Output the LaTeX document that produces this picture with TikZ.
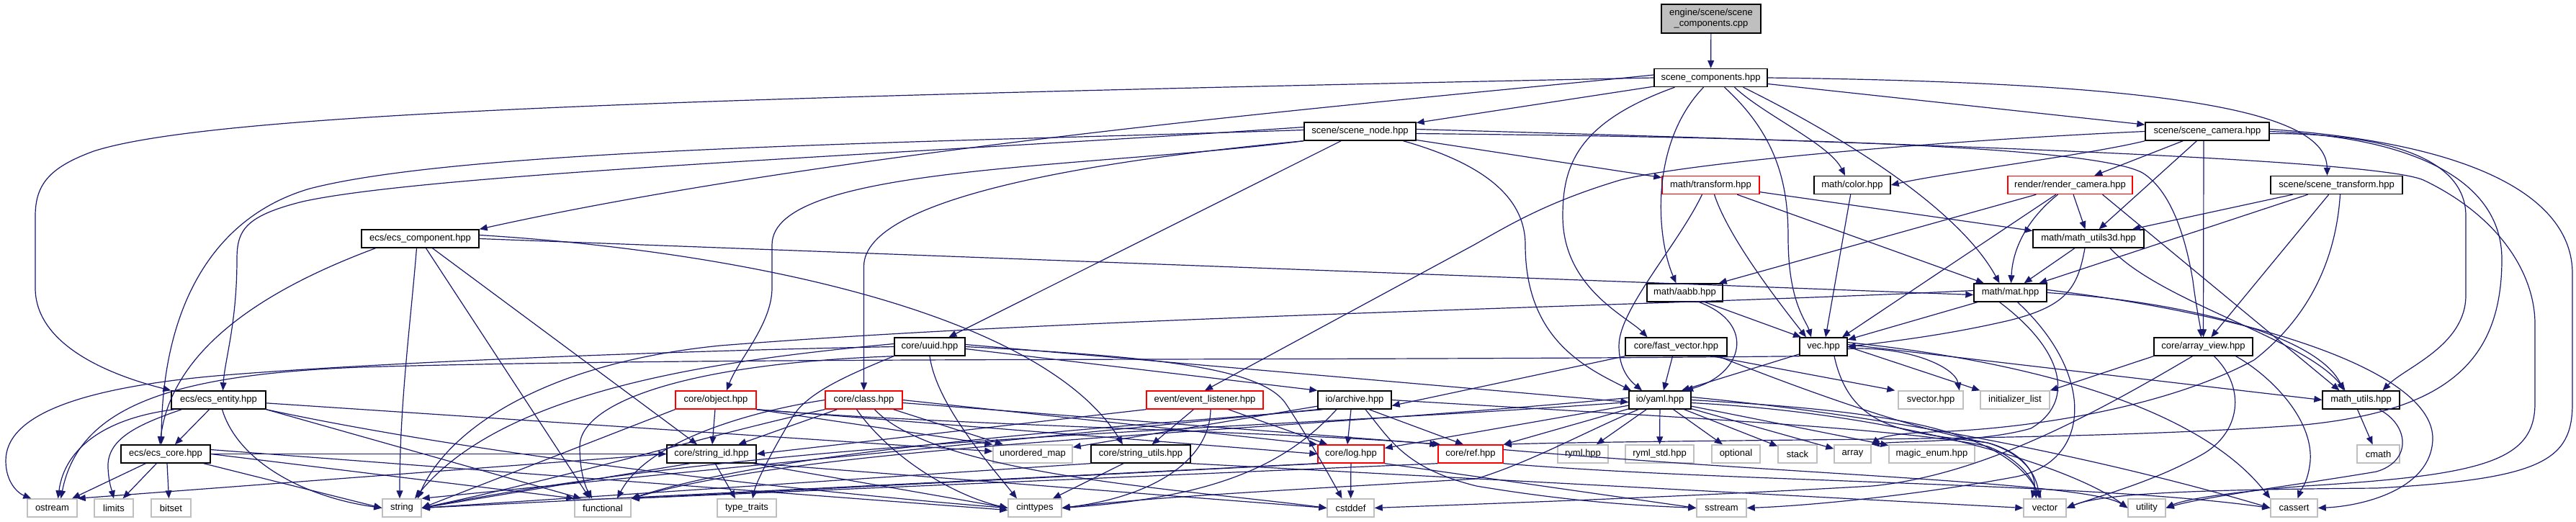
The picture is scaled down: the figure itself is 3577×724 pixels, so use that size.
\documentclass[tikz,border=0pt]{standalone}
\usepackage{fontspec}
\setmainfont{Liberation Sans}
\usetikzlibrary{arrows.meta}
\definecolor{navy}{HTML}{191970}
\definecolor{leafgray}{HTML}{BFBFBF}
\begin{document}
\begin{tikzpicture}[x=1pt,y=-1pt,
  every node/.style={font=\fontsize{13}{15}\selectfont, inner sep=0pt, minimum height=25pt, fill=white, line width=1.4pt},
  hdr/.style={draw=black},
  sys/.style={draw=leafgray},
  trunc/.style={draw=red},
  conn/.style={draw=navy, line width=1.2pt, -{Triangle[length=11pt,width=9pt]}}
]
\useasboundingbox (0,0) rectangle (3577,724);
% rank 0-1
\node[hdr, fill=leafgray, minimum width=138pt, minimum height=40pt, align=center] (cpp) at (2376,26) {engine/scene/scene\\\_components.cpp};
\node[hdr, minimum width=157pt] (sc) at (2375.5,108) {scene\_components.hpp};
% rank 2
\node[hdr, minimum width=155pt] (snode) at (1888.5,182.5) {scene/scene\_node.hpp};
\node[hdr, minimum width=172pt] (scam) at (3065,182.5) {scene/scene\_camera.hpp};
% rank 3
\node[trunc, minimum width=135pt] (transform) at (2375.5,257) {math/transform.hpp};
\node[hdr, minimum width=106pt] (color) at (2572,257) {math/color.hpp};
\node[trunc, minimum width=173pt] (rcam) at (2874.5,257) {render/render\_camera.hpp};
\node[hdr, minimum width=183pt] (strans) at (3244.5,257) {scene/scene\_transform.hpp};
% rank 4
\node[hdr, minimum width=163pt] (ecomp) at (583.5,331.5) {ecs/ecs\_component.hpp};
\node[hdr, minimum width=154pt] (mu3d) at (2900,331.5) {math/math\_utils3d.hpp};
% rank 5
\node[hdr, minimum width=105pt] (aabb) at (2339.5,406.5) {math/aabb.hpp};
\node[hdr, minimum width=101pt] (mat) at (2791.5,406.5) {math/mat.hpp};
% rank 6
\node[hdr, minimum width=98pt] (uuid) at (1291,481.5) {core/uuid.hpp};
\node[hdr, minimum width=141pt] (fvec) at (2327.5,481.5) {core/fast\_vector.hpp};
\node[hdr, minimum width=66pt] (vec) at (2532,481.5) {vec.hpp};
\node[hdr, minimum width=137pt] (aview) at (3059.5,481.5) {core/array\_view.hpp};
% rank 7
\node[hdr, minimum width=131pt] (eent) at (303.5,555.5) {ecs/ecs\_entity.hpp};
\node[trunc, minimum width=112pt] (object) at (994,555.5) {core/object.hpp};
\node[trunc, minimum width=107pt] (class) at (1199.5,555.5) {core/class.hpp};
\node[trunc, minimum width=162pt] (evl) at (1673,555.5) {event/event\_listener.hpp};
\node[hdr, minimum width=102pt] (archive) at (1881,555.5) {io/archive.hpp};
\node[hdr, minimum width=86pt] (yaml) at (2305,555.5) {io/yaml.hpp};
\node[sys, minimum width=90pt] (svector) at (2681,555.5) {svector.hpp};
\node[sys, minimum width=96pt] (initlist) at (2798,555.5) {initializer\_list};
\node[hdr, minimum width=107pt] (mutils) at (3278.5,555.5) {math\_utils.hpp};
% rank 8
\node[hdr, minimum width=124pt] (ecore) at (230,630.5) {ecs/ecs\_core.hpp};
\node[hdr, minimum width=124pt] (strid) at (988,630.5) {core/string\_id.hpp};
\node[sys, minimum width=110pt] (umap) at (1434,630.5) {unordered\_map};
\node[hdr, minimum width=138pt] (strutil) at (1584,630.5) {core/string\_utils.hpp};
\node[trunc, minimum width=92pt] (log) at (1876,630.5) {core/log.hpp};
\node[trunc, minimum width=90pt] (ref) at (2042,630.5) {core/ref.hpp};
\node[sys, minimum width=70pt] (ryml) at (2198,630.5) {ryml.hpp};
\node[sys, minimum width=95pt] (rymlstd) at (2304.5,630.5) {ryml\_std.hpp};
\node[sys, minimum width=67pt] (optional) at (2410.5,630.5) {optional};
\node[sys, minimum width=54pt] (stack) at (2496,630.5) {stack};
\node[sys, minimum width=51pt] (array) at (2572.5,630.5) {array};
\node[sys, minimum width=119pt] (magic) at (2682.5,630.5) {magic\_enum.hpp};
\node[sys, minimum width=59pt] (cmath) at (3302.5,630.5) {cmath};
% rank 9
\node[sys, minimum width=69pt] (ostream) at (72.5,705.5) {ostream};
\node[sys, minimum width=54pt] (limits) at (158,705.5) {limits};
\node[sys, minimum width=55pt] (bitset) at (237.5,705.5) {bitset};
\node[sys, minimum width=54pt] (string) at (558,705.5) {string};
\node[sys, minimum width=78pt] (functional) at (837,705.5) {functional};
\node[sys, minimum width=82pt] (typetraits) at (1037,705.5) {type\_traits};
\node[sys, minimum width=74pt] (cinttypes) at (1437,705.5) {cinttypes};
\node[sys, minimum width=65pt] (cstddef) at (1875.5,705.5) {cstddef};
\node[sys, minimum width=69pt] (sstream) at (2390.5,705.5) {sstream};
\node[sys, minimum width=59pt] (vector) at (2839.5,705.5) {vector};
\node[sys, minimum width=52pt] (utility) at (2981,705.5) {utility};
\node[sys, minimum width=65pt] (cassert) at (3185.5,705.5) {cassert};

% ---- edges ----
\draw[conn] (cpp) -- (sc);
% scene_components.hpp
\draw[conn] (sc.west) .. controls (1000,135) and (300,155) .. (130,210) .. controls (70,232) and (49,255) .. (49,300) -- (49,400) .. controls (49,470) and (130,515) .. (eent.north west);
\draw[conn] ([yshift=4]sc.west) .. controls (2000,135) and (1200,200) .. (ecomp.north east);
\draw[conn] (sc) -- (snode);
\draw[conn] (sc) -- (scam);
\draw[conn] (sc.east) .. controls (3050,115) and (3230,160) .. ([xshift=-13]strans.north);
\draw[conn] ([xshift=33]sc.south) .. controls (2450,160) and (2540,200) .. ([xshift=-10]color.north);
\draw[conn] ([xshift=-10]sc.south) .. controls (2290,200) and (2300,330) .. ([xshift=-12]aabb.north);
\draw[conn] ([xshift=-50]sc.south) .. controls (2190,170) and (2170,230) .. (2170,300) .. controls (2170,400) and (2260,440) .. ([xshift=-40]fvec.north);
\draw[conn] ([xshift=19]sc.south) .. controls (2470,190) and (2483,260) .. (2483,330) .. controls (2483,420) and (2508,445) .. ([xshift=-17]vec.north);
\draw[conn] ([xshift=45]sc.south) .. controls (2560,190) and (2720,290) .. ([xshift=-15]mat.north);
% scene_node.hpp
\draw[conn] ([yshift=2]snode.west) .. controls (1300,198) and (650,205) .. (430,262) .. controls (300,300) and (225,420) .. ([xshift=-6]ecore.north);
\draw[conn] ([yshift=6]snode.west) .. controls (1300,212) and (600,240) .. (420,280) .. controls (340,300) and (329,320) .. (329,360) .. controls (329,450) and (312,500) .. ([xshift=6]eent.north);
\draw[conn] (snode.south west) .. controls (1500,235) and (1072,230) .. (1072,340) -- (1072,400) .. controls (1072,450) and (1025,500) .. ([xshift=15]object.north);
\draw[conn] (snode.south west) .. controls (1550,220) and (1199.5,270) .. (1199.5,370) -- (class.north);
\draw[conn] (snode) -- (uuid);
\draw[conn] (snode) -- (transform);
\draw[conn] ([xshift=60]snode.south) .. controls (2070,230) and (2118,280) .. (2118,340) .. controls (2118,470) and (2200,510) .. ([xshift=-40]yaml.north);
\draw[conn] ([yshift=-3]snode.east) .. controls (2400,190) and (2900,200) .. (2975,240) .. controls (3015,265) and (3035,330) .. (3045,390) .. controls (3050,430) and (3055,450) .. ([xshift=-3]aview.north);
\draw[conn] ([yshift=3]snode.east) .. controls (2700,200) and (3300,222) .. (3365,250) .. controls (3470,300) and (3520,380) .. (3520,450) -- (3520,560) .. controls (3520,640) and (3450,660) .. (3200,675) .. controls (3080,685) and (3030,695) .. (utility.east);
% scene_camera.hpp
\draw[conn] (scam.west) .. controls (2700,195) and (2350,225) .. (2250,250) .. controls (2150,280) and (2100,310) .. (2047,340) -- (evl.north);
\draw[conn] (scam.south west) .. controls (2900,215) and (2700,240) .. (color.east);
\draw[conn] (scam) -- (rcam);
\draw[conn] (scam) -- (mu3d);
\draw[conn] ([xshift=-5]scam.south) -- (aview.north);
\draw[conn] ([yshift=-3]scam.east) .. controls (3300,185) and (3424,215) .. (3424,300) -- (3424,410) .. controls (3424,480) and (3340,510) .. ([xshift=30]mutils.north);
\draw[conn] (scam.east) .. controls (3350,190) and (3474,250) .. (3474,360) .. controls (3474,500) and (3400,570) .. (3200,590) .. controls (3000,605) and (2750,608) .. (2600,610) .. controls (2300,613) and (2150,615) .. (ref.north east);
\draw[conn] ([yshift=3]scam.east) .. controls (3450,200) and (3572,280) .. (3572,380) -- (3572,560) .. controls (3572,640) and (3530,665) .. (3300,678) .. controls (3050,680) and (2920,685) .. (vector.east);
% render_camera.hpp
\draw[conn] (rcam) -- (aabb);
\draw[conn] (rcam) -- ([xshift=26]vec.north);
\draw[conn] ([xshift=-17]rcam.south) .. controls (2820,300) and (2795,340) .. ([xshift=1]mat.north);
\draw[conn] (rcam) -- (mu3d);
\draw[conn] ([xshift=45]rcam.south) -- ([xshift=-30]mutils.north);
% scene_transform.hpp
\draw[conn] (strans) -- (mu3d);
\draw[conn] (strans) -- (mat);
\draw[conn] (strans) -- (aview);
\draw[conn] ([xshift=5]strans.south) .. controls (3245,340) and (3220,430) .. (3130,500) .. controls (3000,570) and (2800,597) .. (2680,600) .. controls (2630,602) and (2610,608) .. (array.north east);
% math_utils3d.hpp
\draw[conn] (mu3d) -- (mat);
\draw[conn] ([xshift=-5]mu3d.south) .. controls (2885,400) and (2870,425) .. (2790,445) .. controls (2700,466) and (2620,475) .. (vec.east);
\draw[conn] ([xshift=30]mu3d.south) .. controls (3000,420) and (3200,470) .. ([xshift=-22]mutils.north);
% transform.hpp
\draw[conn] (transform) -- (mu3d);
\draw[conn] (transform) -- (mat);
\draw[conn] ([xshift=5]transform.south) .. controls (2400,330) and (2470,420) .. ([xshift=-24]vec.north);
\draw[conn] ([xshift=-12]transform.south) .. controls (2330,340) and (2248,430) .. (2248,480) .. controls (2248,515) and (2265,530) .. ([xshift=-25]yaml.north);
% color.hpp
\draw[conn] (color) -- ([xshift=3]vec.north);
% aabb.hpp
\draw[conn] ([xshift=28]aabb.south) -- ([xshift=-31]vec.north);
\draw[conn] ([xshift=20]aabb.south) .. controls (2440,450) and (2420,520) .. ([xshift=35]yaml.north);
% ecs_component.hpp
\draw[conn] ([xshift=-62]ecomp.south) .. controls (400,390) and (240,470) .. ([xshift=-8]ecore.north);
\draw[conn] ([xshift=-5]ecomp.south) .. controls (570,450) and (555,560) .. ([xshift=-3]string.north);
\draw[conn] ([xshift=8]ecomp.south) -- ([xshift=-18]functional.north);
\draw[conn] ([xshift=17]ecomp.south) -- ([xshift=-20]strid.north);
\draw[conn] (ecomp.east) -- ([yshift=-3]mat.west);
\draw[conn] ([yshift=5]ecomp.east) .. controls (1050,350) and (1450,440) .. ([xshift=-25]strutil.north);
% ecs_entity.hpp
\draw[conn] (eent) -- (ecore);
\draw[conn] ([xshift=5]eent.south west) .. controls (150,580) and (90,620) .. ([xshift=8]ostream.north);
\draw[conn] ([xshift=15]eent.south west) .. controls (190,590) and (148,610) .. (150,650) .. controls (151,670) and (155,680) .. (limits.north);
\draw[conn] ([xshift=5]eent.south) .. controls (330,640) and (420,690) .. (string.west);
\draw[conn] (eent.south east) -- ([xshift=-30]functional.north);
\draw[conn] (eent) -- (umap);
\draw[conn] (eent.south east) .. controls (700,640) and (1200,690) .. (cinttypes.west);
% ecs_core.hpp
\draw[conn] (ecore) -- (ostream);
\draw[conn] (ecore) -- (limits);
\draw[conn] ([xshift=2]ecore.south) -- ([xshift=-3]bitset.north);
\draw[conn] ([xshift=-10]ecore.south east) -- (string.west);
\draw[conn] (ecore.east) -- (functional.north west);
\draw[conn] (ecore.east) -- (strid.west);
\draw[conn] ([yshift=6]ecore.east) -- ([yshift=-3]cinttypes.west);
% uuid.hpp
\draw[conn] (uuid.west) .. controls (900,488) and (500,505) .. (300,522) .. controls (100,540) and (8,580) .. (8,640) .. controls (8,670) and (25,685) .. ([xshift=6]ostream.north west);
\draw[conn] ([yshift=4]uuid.west) .. controls (1000,500) and (700,540) .. ([xshift=18]string.north);
\draw[conn] (uuid.south west) .. controls (950,505) and (805,560) .. (805,620) .. controls (805,660) and (815,680) .. ([xshift=-15]functional.north);
\draw[conn] ([xshift=-50]uuid.south) .. controls (1180,520) and (1120,545) .. (1100,580) .. controls (1070,630) and (1050,670) .. ([xshift=8]typetraits.north);
\draw[conn] (uuid.south) .. controls (1300,560) and (1370,640) .. ([xshift=-25]cinttypes.north);
\draw[conn] (uuid.east) .. controls (1600,495) and (1750,510) .. (1785,560) .. controls (1815,605) and (1840,650) .. ([xshift=-12]cstddef.north);
\draw[conn] ([yshift=-3]uuid.east) -- (archive.north west);
\draw[conn] ([yshift=3]uuid.east) -- ([yshift=-3]yaml.west);
% object.hpp
\draw[conn] (object.south west) -- (string.east);
\draw[conn] (object) -- (strid);
\draw[conn] (object.south east) -- (umap.north west);
\draw[conn] (object.south east) -- (log.west);
\draw[conn] (object.south east) .. controls (1300,590) and (1800,600) .. (ref.north west);
% class.hpp
\draw[conn] (class.south west) .. controls (1000,600) and (800,660) .. (string.east);
\draw[conn] (class.west) .. controls (1050,570) and (900,610) .. ([xshift=20]functional.north);
\draw[conn] (class) -- (strid);
\draw[conn] (class) -- (umap);
\draw[conn] ([xshift=-10]class.south) .. controls (1240,640) and (1330,690) .. (cinttypes.west);
\draw[conn] (class.east) -- (log.north west);
\draw[conn] ([yshift=-4]class.east) -- ([xshift=4]ref.north west);
\draw[conn] ([xshift=15]class.south) .. controls (1300,660) and (1650,680) .. (cstddef.west);
% event_listener.hpp
\draw[conn] (evl.south west) -- (strid.east);
\draw[conn] (evl) -- (strutil);
\draw[conn] ([xshift=8]evl.south) .. controls (1680,640) and (1600,690) .. (cinttypes.east);
\draw[conn] ([xshift=-49]evl.south east) -- ([xshift=14]log.north west);
% string_id.hpp
\draw[conn] (strid.west) -- (ostream.north east);
\draw[conn] ([xshift=-30]strid.south) -- (string.east);
\draw[conn] ([xshift=5]strid.south) -- ([xshift=-16]typetraits.north);
\draw[conn] ([xshift=-5]strid.south east) -- (cinttypes.west);
\draw[conn] (strid.south east) -- (cstddef.west);
% string_utils.hpp
\draw[conn] (strutil.south west) -- (string.east);
\draw[conn] ([xshift=-24]strutil.south) -- ([xshift=25]cinttypes.north);
\draw[conn] (strutil.south east) -- (vector.west);
% archive.hpp
\draw[conn] (archive.south west) -- (string.north east);
\draw[conn] ([xshift=8]archive.south west) .. controls (1600,590) and (1100,620) .. (functional.north east);
\draw[conn] ([xshift=-25]archive.south) .. controls (1790,640) and (1700,690) .. (cinttypes.east);
\draw[conn] ([xshift=-5]archive.south) -- ([xshift=-5]log.north);
\draw[conn] ([xshift=20]archive.south) -- ([xshift=-10]ref.north);
\draw[conn] ([xshift=15]archive.south) .. controls (1930,610) and (1950,650) .. (2050,675) .. controls (2200,700) and (2300,703) .. (sstream.west);
\draw[conn] (archive) -- (umap);
\draw[conn] (archive.east) .. controls (2300,578) and (2650,595) .. (2760,620) .. controls (2800,635) and (2825,665) .. ([xshift=-12]vector.north);
% yaml.hpp
\draw[conn] (yaml) -- (log);
\draw[conn] (yaml) -- (ref);
\draw[conn] (yaml) -- (ryml);
\draw[conn] (yaml) -- (rymlstd);
\draw[conn] (yaml) -- (optional);
\draw[conn] (yaml) -- (stack);
\draw[conn] (yaml) -- (array);
\draw[conn] (yaml) -- (magic);
\draw[conn] ([yshift=-3]yaml.west) .. controls (1700,600) and (1100,605) .. (string.east);
\draw[conn] ([yshift=3]yaml.west) .. controls (1700,605) and (1150,615) .. (functional.north east);
\draw[conn] ([xshift=-30]yaml.south) .. controls (2200,600) and (2130,640) .. (2050,665) .. controls (1800,680) and (1600,690) .. (cinttypes.east);
\draw[conn] (yaml.east) .. controls (2600,570) and (2780,590) .. ([xshift=-5]vector.north);
\draw[conn] ([yshift=4]yaml.east) .. controls (2700,585) and (3000,660) .. (cassert.west);
\draw[conn] ([yshift=-4]yaml.east) .. controls (2650,575) and (2880,650) .. (utility.west);
% log.hpp
\draw[conn] (log) -- (cstddef);
\draw[conn] (log.south west) -- (string.east);
\draw[conn] ([xshift=5]log.south west) -- (functional.north east);
\draw[conn] (log.south east) -- (sstream.west);
% ref.hpp
\draw[conn] (ref.south west) -- (functional.north east);
\draw[conn] (ref.south east) .. controls (2400,670) and (2900,670) .. (cassert.west);
\draw[conn] ([yshift=6]ref.east) .. controls (2500,660) and (2900,670) .. (utility.west);
% vec.hpp
\draw[conn] (vec.south west) .. controls (1800,502) and (1000,495) .. (500,510) .. controls (250,520) and (110,560) .. ([xshift=12]ostream.north);
\draw[conn] (vec) -- ([xshift=30]yaml.north);
\draw[conn] ([yshift=-3]vec.east) .. controls (2650,480) and (2715,510) .. ([xshift=-6]svector.north east);
\draw[conn] (vec.east) -- (initlist.north west);
\draw[conn] ([yshift=3]vec.east) -- (mutils.west);
\draw[conn] ([yshift=6]vec.east) .. controls (2800,500) and (3050,560) .. (cassert.north west);
\draw[conn] ([xshift=15]vec.south) .. controls (2570,600) and (2650,600) .. (2760,615) .. controls (2810,630) and (2828,660) .. ([xshift=-8]vector.north);
% fast_vector.hpp
\draw[conn] (fvec.south west) -- ([yshift=-8]archive.east);
\draw[conn] ([xshift=-5]fvec.south) -- ([xshift=5]yaml.north);
\draw[conn] ([xshift=50]fvec.south) -- ([xshift=-4]svector.north west);
\draw[conn] ([xshift=58]fvec.south) .. controls (2500,540) and (2650,595) .. (2760,615) .. controls (2810,628) and (2830,660) .. ([xshift=-18]vector.north);
% array_view.hpp
\draw[conn] (aview.south west) -- (initlist.north east);
\draw[conn] ([xshift=15]aview.south) .. controls (3120,540) and (3110,600) .. (3060,630) .. controls (2990,670) and (2910,690) .. (vector.east);
\draw[conn] ([xshift=-15]aview.south) .. controls (2900,580) and (2750,660) .. (2600,675) .. controls (2300,692) and (2050,700) .. (cstddef.east);
\draw[conn] ([xshift=45]aview.south) .. controls (3150,520) and (3212,580) .. (3208,640) .. controls (3205,670) and (3195,680) .. ([xshift=5]cassert.north);
% mat.hpp
\draw[conn] (mat) -- (vec);
\draw[conn] (mat.east) .. controls (3050,420) and (3220,470) .. ([xshift=-24]mutils.north);
\draw[conn] ([yshift=4]mat.east) .. controls (3150,440) and (3380,520) .. (3378,610) .. controls (3376,680) and (3280,703) .. (cassert.east);
\draw[conn] ([xshift=-15]mat.south) .. controls (2870,490) and (2880,560) .. (2820,595) .. controls (2750,615) and (2640,612) .. (array.north east);
\draw[conn] ([xshift=10]mat.south) .. controls (2910,520) and (2905,640) .. (2800,662) .. controls (2650,690) and (2500,703) .. (sstream.east);
\draw[conn] ([yshift=3]mat.west) .. controls (2300,425) and (1500,440) .. (1000,480) .. controls (750,505) and (620,600) .. ([xshift=22]string.north);
% math_utils.hpp
\draw[conn] ([xshift=-5]mutils.south) -- ([xshift=-8]cmath.north);
\draw[conn] ([xshift=25]mutils.south) .. controls (3345,590) and (3350,640) .. (3300,655) .. controls (3200,672) and (3060,690) .. (utility.east);
\end{tikzpicture}
\end{document}
